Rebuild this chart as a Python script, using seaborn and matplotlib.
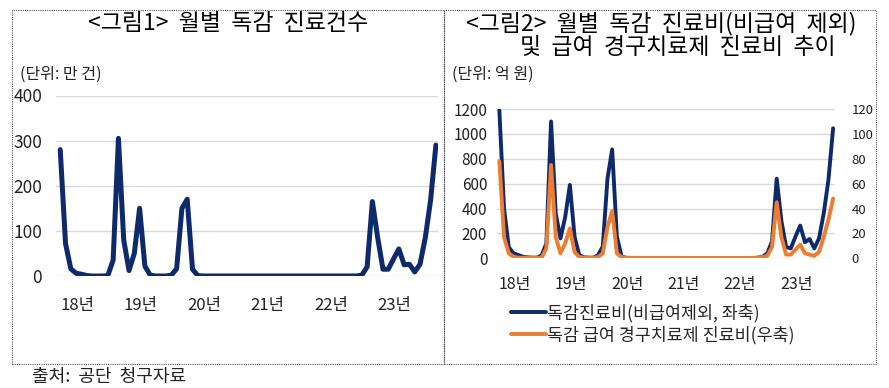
import numpy as np
import pandas as pd
import seaborn as sns
import matplotlib.pyplot as plt
from matplotlib.patches import Rectangle

# 월별 데이터 (2018.1 ~ 2023.12)
months = pd.date_range('2018-01-01', periods=72, freq='MS').strftime('%Y-%m').tolist()
year_labels = ['18년', '19년', '20년', '21년', '22년', '23년']

# 그림1: 독감 진료건수 (만 건)
flu_cases = [280, 72, 16, 6, 4, 1, 0, 0, 0, 1,
             35, 305, 80, 12, 50, 150, 22, 2, 0, 0,
             0, 2, 16, 150, 170, 15, 1, 0, 0, 0,
             0, 0, 0, 0, 0, 0, 0, 0, 0, 0,
             0, 0, 0, 0, 0, 0, 0, 0, 0, 0,
             0, 0, 0, 0, 0, 0, 0, 2, 20, 165,
             85, 15, 15, 38, 60, 25, 26, 9, 26, 85, 168, 290]

# 그림2: 독감 진료비(비급여 제외, 억 원) / 급여 경구치료제 진료비(억 원)
flu_cost = [1190, 400, 90, 40, 27, 13, 8, 5, 5, 25,
            120, 1100, 360, 160, 330, 590, 175, 25, 8, 5,
            5, 25, 95, 640, 875, 175, 13, 4, 3, 3,
            3, 3, 3, 3, 3, 3, 3, 3, 3, 3,
            2, 2, 2, 2, 2, 2, 2, 2, 2, 2,
            2, 2, 2, 2, 2, 5, 13, 40, 135, 640,
            300, 90, 80, 175, 263, 130, 155, 80, 160, 360, 630, 1045]
drug_cost = [78, 17, 4, 1.3, 0.5, 0.5, 0.5, 0.5, 0.5, 0.5,
             8, 75, 17, 4, 12, 24, 5, 1, 0.5, 0.5,
             0.5, 1, 4, 25, 38, 4, 1, 0.3, 0.3, 0.3,
             0.3, 0.3, 0.3, 0.3, 0.3, 0.3, 0.3, 0.3, 0.3, 0.3,
             0.3, 0.3, 0.3, 0.3, 0.3, 0.3, 0.3, 0.3, 0.3, 0.3,
             0.3, 0.3, 0.3, 0.3, 0.3, 0.5, 1, 2, 9, 45,
             17, 3, 3, 7, 11, 4, 3, 2, 5, 17, 31, 48]

df = pd.DataFrame({'월': months, 'i': np.arange(72),
                   '건수': flu_cases, '진료비': flu_cost, '경구치료제': drug_cost})

sns.set_style('white')
plt.rcParams['font.family'] = ['Noto Sans CJK KR', 'DejaVu Sans']
plt.rcParams['axes.unicode_minus'] = False

navy = '#0F2A6B'
orange = '#ED7D31'
grid_c = '#D9D9D9'

fig = plt.figure(figsize=(8.89, 3.88), dpi=100)
W, H = 889, 388

def box(x0, y0, x1, y1):
    fig.patches.append(Rectangle((x0 / W, 1 - y1 / H), (x1 - x0) / W, (y1 - y0) / H,
                                 transform=fig.transFigure, fill=False,
                                 ec='#555555', lw=0.8, ls=(0, (1, 1))))

box(12, 10, 444, 364)
box(444, 10, 876, 364)

tick_pos = [3.2 + 12 * k for k in range(6)]

# 그림1
ax1 = fig.add_axes([56 / W, 1 - 276 / H, (438 - 56) / W, (276 - 95.5) / H])
sns.lineplot(data=df, x='i', y='건수', ax=ax1, color=navy, lw=3.6)
ax1.set_xlim(-0.8, 71.4)
ax1.set_ylim(0, 400)
ax1.set_yticks([0, 100, 200, 300, 400])
ax1.set_xticks(tick_pos)
ax1.set_xticklabels(year_labels)
ax1.tick_params(axis='y', length=0, pad=10, labelsize=12.5, labelcolor='#222222')
ax1.tick_params(axis='x', length=0, pad=15, labelsize=12, labelcolor='#222222')
ax1.set_xlabel('')
ax1.set_ylabel('')
ax1.grid(axis='y', color=grid_c, lw=1)
ax1.set_axisbelow(True)
sns.despine(ax=ax1, left=True, bottom=True)

fig.text(228 / W, 1 - 23 / H, '<그림1>  월별  독감  진료건수', ha='center', va='center',
         fontsize=16.5, color='black')
fig.text(20 / W, 1 - 74 / H, '(단위: 만 건)', ha='left', va='center', fontsize=11.5,
         color='#222222')

# 그림2
ax2 = fig.add_axes([497 / W, 1 - 258.3 / H, (835 - 497) / W, (258.3 - 109) / H])
sns.lineplot(data=df, x='i', y='진료비', ax=ax2, color=navy, lw=2.8,
             label='독감진료비(비급여제외, 좌축)', legend=False)
ax2.set_xlim(-0.5, 71.4)
ax2.set_ylim(0, 1200)
ax2.set_yticks(range(0, 1201, 200))
ax2.set_xticks(tick_pos)
ax2.set_xticklabels(year_labels)
ax2.tick_params(axis='y', length=0, pad=7, labelsize=11, labelcolor='#222222')
ax2.tick_params(axis='x', length=0, pad=13, labelsize=11.5, labelcolor='#222222')
ax2.set_xlabel('')
ax2.set_ylabel('')
ax2.grid(axis='y', color=grid_c, lw=1)
ax2.set_axisbelow(True)

ax2r = ax2.twinx()
sns.lineplot(data=df, x='i', y='경구치료제', ax=ax2r, color=orange, lw=2.8,
             label='독감 급여 경구치료제 진료비(우축)', legend=False)
ax2r.set_ylim(0, 120)
ax2r.set_yticks(range(0, 121, 20))
ax2r.tick_params(axis='y', length=0, pad=12, labelsize=9.5, labelcolor='#222222')
ax2r.set_ylabel('')
for a in (ax2, ax2r):
    for s in a.spines.values():
        s.set_visible(False)

h1, l1 = ax2.get_legend_handles_labels()
h2, l2 = ax2r.get_legend_handles_labels()
fig.legend(h1 + h2, l1 + l2, loc='center left', bbox_to_anchor=(511 / W, 1 - 324 / H),
           frameon=False, fontsize=12.5, handlelength=2.0, handletextpad=0.1,
           labelspacing=0.2, borderaxespad=0, borderpad=0)

fig.text(661 / W, 1 - 24 / H, '<그림2>  월별  독감  진료비(비급여  제외)', ha='center',
         va='center', fontsize=16.5, color='black')
fig.text(678 / W, 1 - 48 / H, '및  급여  경구치료제  진료비  추이', ha='center',
         va='center', fontsize=16.5, color='black')
fig.text(452 / W, 1 - 74 / H, '(단위: 억 원)', ha='left', va='center', fontsize=11.5,
         color='#222222')

fig.text(32 / W, 1 - 377 / H, '출처:  공단  청구자료', ha='left', va='center',
         fontsize=13, color='#222222')

fig.savefig('out.png', dpi=100)
